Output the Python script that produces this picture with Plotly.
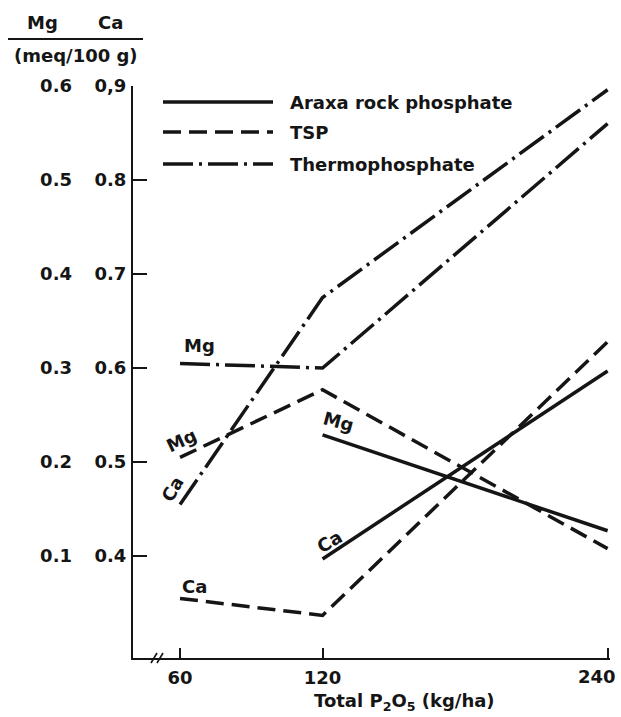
import plotly.graph_objects as go

# ---- data ----
x_rates = [60, 120, 240]
araxa_mg = [None, 0.229, 0.127]
araxa_ca = [None, 0.397, 0.597]
tsp_mg = [0.205, 0.277, 0.108]
tsp_ca = [0.355, 0.337, 0.628]
thermo_mg = [0.305, 0.300, 0.560]
thermo_ca = [0.455, 0.675, 0.896]

mg_ticks = [0.1, 0.2, 0.3, 0.4, 0.5, 0.6]
mg_ticktext = ["0.1", "0.2", "0.3", "0.4", "0.5", "0.6"]
ca_ticks = [0.4, 0.5, 0.6, 0.7, 0.8, 0.9]
ca_ticktext = ["0.4", "0.5", "0.6", "0.7", "0.8", "0,9"]
x_ticks = [60, 120, 240]
x_ticktext = ["60", "120", "240"]

series_names = ["Araxa rock phosphate", "TSP", "Thermophosphate"]

# ---- style ----
W, H = 621, 717
ML, MR, MT, MB = 60, 11, 86, 59
INK = "#151515"
FONT = "DejaVu Sans"
FS = 18
DASHES = {"Araxa rock phosphate": "solid",
          "TSP": "18px,8px",
          "Thermophosphate": "30px,6px,3px,6px"}
LW = 3.5

CA_RANGE = [0.2917, 0.9]
MG_RANGE = [CA_RANGE[0] - 0.3, CA_RANGE[1] - 0.3]
X_RANGE = [40.2, 241]

pw = W - ML - MR
ph = H - MT - MB


def px(xp):
    return (xp - ML) / pw


def py(yp):
    return (H - MB - yp) / ph


fig = go.Figure()

data = {
    "Araxa rock phosphate": (araxa_mg, araxa_ca),
    "TSP": (tsp_mg, tsp_ca),
    "Thermophosphate": (thermo_mg, thermo_ca),
}
for name, (mg, ca) in data.items():
    fig.add_trace(go.Scatter(x=x_rates, y=mg, yaxis="y2", mode="lines", name=name + " Mg",
                             line=dict(color=INK, width=LW, dash=DASHES[name]),
                             showlegend=False, connectgaps=False))
    fig.add_trace(go.Scatter(x=x_rates, y=ca, yaxis="y", mode="lines", name=name + " Ca",
                             line=dict(color=INK, width=LW, dash=DASHES[name]),
                             showlegend=False, connectgaps=False))

font = dict(family=FONT, size=FS, color=INK, weight="bold")

annotations = []
shapes = []


# line labels anchored at series start points
def lab(text, x, y, yref, dx, dy, ang=0):
    annotations.append(dict(text=text, x=x, y=y, xref="x", yref=yref, xshift=dx, yshift=dy,
                            showarrow=False, textangle=ang, font=font,
                            xanchor="center", yanchor="middle"))


lab("Mg", x_rates[0], thermo_mg[0], "y2", 19, 18)
lab("Mg", x_rates[0], tsp_mg[0], "y2", 1, 17, -25)
lab("Ca", x_rates[0], thermo_ca[0], "y", -8, 15, -60)
lab("Ca", x_rates[0], tsp_ca[0], "y", 14, 12)
lab("Mg", x_rates[1], araxa_mg[1], "y2", 16, 13, 15)
lab("Ca", x_rates[1], araxa_ca[1], "y", 7, 17, -30)

# legend drawn as keyed samples
leg_y = [102, 132, 164]
for name, yy in zip(series_names, leg_y):
    shapes.append(dict(type="line", xref="paper", yref="paper",
                       x0=px(163), x1=px(273), y0=py(yy), y1=py(yy),
                       line=dict(color=INK, width=LW, dash=DASHES[name])))
    annotations.append(dict(text=name, xref="paper", yref="paper", x=px(288), y=py(yy),
                            xanchor="left", yanchor="middle", showarrow=False, font=font))

# header of the y axes
annotations.append(dict(text="Mg", xref="paper", yref="paper", x=px(42), y=py(23),
                        showarrow=False, font=font, xanchor="center", yanchor="middle"))
annotations.append(dict(text="Ca", xref="paper", yref="paper", x=px(110), y=py(23),
                        showarrow=False, font=font, xanchor="center", yanchor="middle"))
annotations.append(dict(text="(meq/100 g)", xref="paper", yref="paper", x=px(76), y=py(56),
                        showarrow=False, font=font, xanchor="center", yanchor="middle"))
shapes.append(dict(type="line", xref="paper", yref="paper", x0=px(8), x1=px(143),
                   y0=py(39), y1=py(39), line=dict(color=INK, width=2)))

# last x tick label, kept inside the page (right aligned at the axis end)
annotations.append(dict(text=x_ticktext[-1], xref="x", yref="paper", x=x_ticks[-1], y=py(676),
                        xanchor="right", yanchor="middle", xshift=10, showarrow=False, font=font))

# x axis title
annotations.append(dict(text="Total P<sub>2</sub>O<sub>5</sub> (kg/ha)", xref="paper", yref="paper",
                        x=px(404), y=py(702), showarrow=False, font=font,
                        xanchor="center", yanchor="middle"))

# axis break marks
for x0 in (151, 157):
    shapes.append(dict(type="line", xref="paper", yref="paper", x0=px(x0), x1=px(x0 + 6),
                       y0=py(663), y1=py(653), line=dict(color=INK, width=1.6)))

fig.update_layout(
    width=W, height=H,
    margin=dict(l=ML, r=MR, t=MT, b=MB, pad=0),
    paper_bgcolor="white", plot_bgcolor="white",
    font=font,
    showlegend=False,
    xaxis=dict(domain=[px(133), 1], range=X_RANGE, tickvals=x_ticks[:-1],
               ticktext=x_ticktext[:-1],
               showgrid=False, zeroline=False, showline=True, linecolor=INK, linewidth=2,
               ticks="inside", ticklen=10, tickwidth=1.6, tickcolor=INK,
               tickfont=font, ticklabelstandoff=2,
               minor=dict(tickvals=x_ticks[-1:], ticks="inside", ticklen=10, tickwidth=1.6,
                          tickcolor=INK, showgrid=False)),
    yaxis=dict(range=CA_RANGE, tickvals=ca_ticks, ticktext=ca_ticktext,
               showgrid=False, zeroline=False, showline=True, linecolor=INK, linewidth=2,
               ticks="inside", ticklen=14, tickwidth=1.6, tickcolor=INK,
               tickfont=font, anchor="x", ticklabelstandoff=1),
    yaxis2=dict(range=MG_RANGE, tickvals=mg_ticks, ticktext=mg_ticktext,
                overlaying="y", side="left", anchor="free", position=px(72),
                showgrid=False, zeroline=False, showline=False, ticks="",
                tickfont=font),
    annotations=annotations,
    shapes=shapes,
)

fig.write_html("out.html")
